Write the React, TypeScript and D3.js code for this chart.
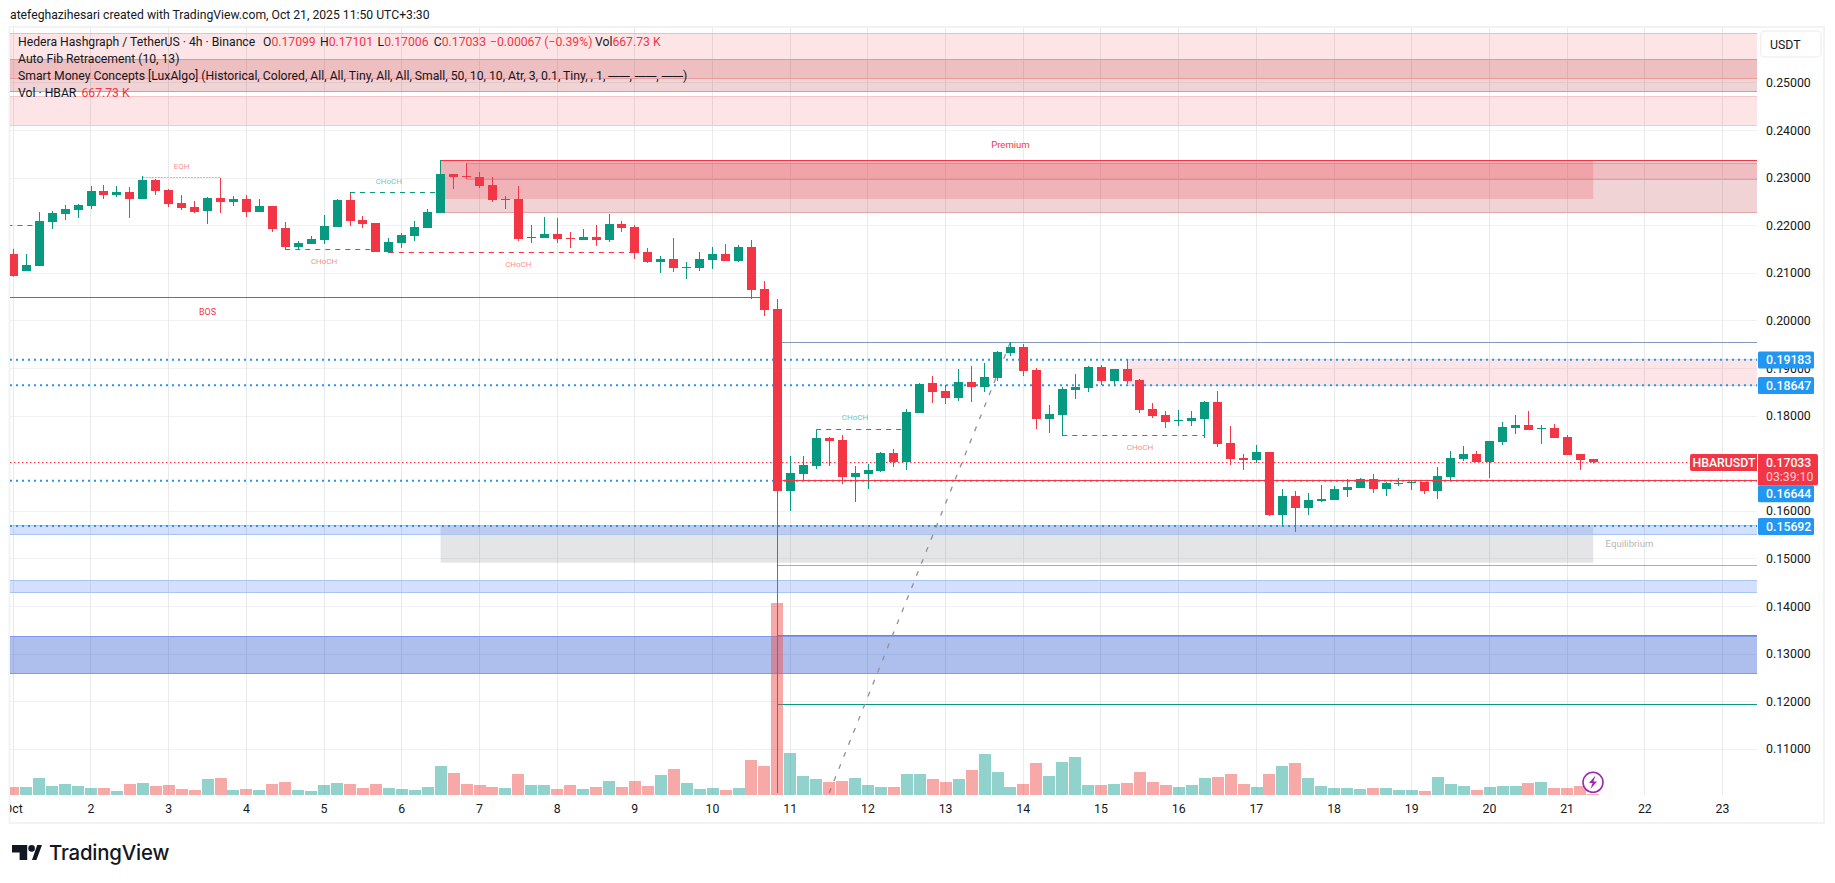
import React from "react";
import * as d3 from "d3";

const opens = [
  0.21411, 0.21048, 0.21154, 0.22078, 0.22246, 0.2233, 0.22414, 0.22729, 0.22645, 0.22708,
  0.22561, 0.2296, 0.2275, 0.22477, 0.22393, 0.22309, 0.22582, 0.22498, 0.22561, 0.22288,
  0.22414, 0.21952, 0.21553, 0.21616, 0.217, 0.21973, 0.2254, 0.2212, 0.22057, 0.21448,
  0.21637, 0.21784, 0.21952, 0.22267, 0.23086, 0.23044, 0.23023, 0.22855, 0.2254, 0.22561,
  0.21742, 0.21742, 0.21826, 0.21742, 0.217, 0.21763, 0.217, 0.22036, 0.21973, 0.21448,
  0.21238, 0.21301, 0.21112, 0.21112, 0.2128, 0.21406, 0.21259, 0.21553, 0.2067, 0.2025,
  0.16426, 0.16784, 0.16952, 0.1754, 0.17498, 0.16721, 0.16784, 0.16847, 0.17225, 0.17036,
  0.18065, 0.18695, 0.18527, 0.1838, 0.18716, 0.18611, 0.188, 0.19326, 0.19452, 0.18969,
  0.17939, 0.18023, 0.18548, 0.1859, 0.19032, 0.18737, 0.18989, 0.18758, 0.18149, 0.18023,
  0.17897, 0.17897, 0.17939, 0.18296, 0.17435, 0.1712, 0.17078, 0.17246, 0.15923, 0.16321,
  0.16069, 0.16216, 0.16237, 0.16447, 0.16489, 0.16678, 0.16468, 0.16573, 0.16594, 0.16615,
  0.16426, 0.16721, 0.17099, 0.17204, 0.17036, 0.17456, 0.1775, 0.17813, 0.17729, 0.1775,
  0.17561, 0.17204, 0.17099,
];
const highs = [
  0.21516, 0.21406, 0.22288, 0.22309, 0.22435, 0.22456, 0.22834, 0.22855, 0.22834, 0.22813,
  0.23044, 0.22981, 0.22771, 0.22645, 0.22519, 0.22603, 0.23002, 0.22624, 0.22645, 0.22561,
  0.22414, 0.22078, 0.21679, 0.21784, 0.22225, 0.22561, 0.22687, 0.22204, 0.22057, 0.21742,
  0.21847, 0.22099, 0.22351, 0.2338, 0.23086, 0.23317, 0.23128, 0.23023, 0.22624, 0.22834,
  0.22015, 0.22183, 0.22162, 0.21868, 0.21931, 0.22015, 0.22246, 0.22099, 0.22015, 0.21532,
  0.21364, 0.21742, 0.21238, 0.21448, 0.21553, 0.21616, 0.21595, 0.217, 0.20838, 0.2046,
  0.17162, 0.17162, 0.17708, 0.17561, 0.17603, 0.16952, 0.16994, 0.17246, 0.17309, 0.18149,
  0.18695, 0.18842, 0.18653, 0.18989, 0.19053, 0.19116, 0.19368, 0.19557, 0.19515, 0.19011,
  0.18233, 0.18611, 0.18884, 0.19053, 0.19074, 0.18989, 0.19179, 0.18779, 0.18275, 0.18107,
  0.18128, 0.18107, 0.18317, 0.18527, 0.17792, 0.17204, 0.17393, 0.17246, 0.16468, 0.16426,
  0.16384, 0.16552, 0.16531, 0.16678, 0.16699, 0.16784, 0.16615, 0.16699, 0.16657, 0.16615,
  0.16931, 0.17267, 0.17372, 0.17267, 0.17477, 0.17876, 0.18023, 0.18107, 0.17813, 0.17834,
  0.17603, 0.17204, 0.17101,
];
const lows = [
  0.20928, 0.21048, 0.21154, 0.21931, 0.2212, 0.22162, 0.22351, 0.22561, 0.22603, 0.22162,
  0.22561, 0.22645, 0.22393, 0.2233, 0.22267, 0.22036, 0.22267, 0.22414, 0.22183, 0.22288,
  0.21868, 0.2149, 0.21511, 0.21616, 0.21616, 0.21973, 0.21994, 0.21952, 0.21448, 0.21427,
  0.21532, 0.21679, 0.21952, 0.22267, 0.22771, 0.22981, 0.22792, 0.22498, 0.22351, 0.21679,
  0.21637, 0.21742, 0.21637, 0.21532, 0.217, 0.21574, 0.21658, 0.21868, 0.21301, 0.21217,
  0.21006, 0.21028, 0.2088, 0.21048, 0.2109, 0.21259, 0.21238, 0.2046, 0.20103, 0.10082,
  0.16006, 0.16658, 0.16889, 0.16952, 0.16574, 0.16195, 0.16468, 0.16826, 0.16931, 0.16868,
  0.18065, 0.18275, 0.18254, 0.18317, 0.18296, 0.18506, 0.18737, 0.19263, 0.18842, 0.17729,
  0.17645, 0.17582, 0.18359, 0.18506, 0.18653, 0.18653, 0.18674, 0.18065, 0.1796, 0.1775,
  0.17792, 0.17792, 0.1754, 0.17351, 0.16973, 0.16868, 0.17015, 0.15902, 0.15712, 0.15565,
  0.15923, 0.16195, 0.16237, 0.163, 0.16489, 0.16384, 0.16321, 0.16531, 0.16447, 0.16363,
  0.16258, 0.16636, 0.17057, 0.17036, 0.167, 0.17393, 0.17624, 0.17708, 0.17414, 0.1754,
  0.17183, 0.16868, 0.17006,
];
const closes = [
  0.20949, 0.21175, 0.22099, 0.22267, 0.22351, 0.22435, 0.22729, 0.22645, 0.22708, 0.22561,
  0.2296, 0.22729, 0.22456, 0.22372, 0.22288, 0.22582, 0.22498, 0.22561, 0.22288, 0.22414,
  0.21931, 0.21553, 0.21637, 0.21721, 0.21994, 0.2254, 0.22099, 0.22036, 0.21448, 0.21658,
  0.21805, 0.21973, 0.22288, 0.23086, 0.23023, 0.23023, 0.22834, 0.2254, 0.22561, 0.21721,
  0.21763, 0.21826, 0.21721, 0.21721, 0.21763, 0.217, 0.22036, 0.21952, 0.21427, 0.21238,
  0.21301, 0.21112, 0.21133, 0.21301, 0.21406, 0.21259, 0.21553, 0.20649, 0.20229, 0.16426,
  0.16805, 0.16973, 0.1754, 0.17477, 0.16721, 0.16805, 0.16868, 0.17225, 0.17036, 0.18086,
  0.18674, 0.18506, 0.1838, 0.18716, 0.18611, 0.18821, 0.19347, 0.19452, 0.18947, 0.17939,
  0.18044, 0.18569, 0.18611, 0.19032, 0.18737, 0.18989, 0.18737, 0.18128, 0.18002, 0.17876,
  0.17918, 0.1796, 0.18296, 0.17414, 0.17099, 0.17078, 0.17246, 0.15923, 0.16321, 0.16069,
  0.16237, 0.16258, 0.16468, 0.1651, 0.16678, 0.16468, 0.16594, 0.16594, 0.16615, 0.16426,
  0.16742, 0.1712, 0.17204, 0.17036, 0.17477, 0.17771, 0.17813, 0.17708, 0.1775, 0.1754,
  0.17183, 0.17078, 0.17033,
];
// volume in millions of HBAR
const volumes = [
  5.6, 5.6, 11.9, 6.3, 7.7, 6.3, 4.9, 4.9, 2.8, 7.7, 8.4, 6.3, 7, 4.2, 3.5, 11.2, 11.9, 3.5, 4.2, 3.5,
  7.7, 9.1, 3.5, 2.8, 7, 8.4, 7.7, 4.9, 7.7, 4.9, 4.2, 3.5, 5.6, 20.3, 15.4, 7.7, 7, 5.6, 4.9, 14.7,
  7, 7, 4.2, 7, 4.2, 5.6, 9.8, 5.6, 9.8, 6.3, 14, 18.2, 8.4, 4.2, 4.9, 3.5, 4.9, 24.5, 20.3, 134.4,
  29.4, 13.3, 11.2, 9.1, 9.8, 11.9, 7, 5.6, 5.6, 14.7, 14.7, 11.2, 9.1, 11.2, 17.5, 28.7, 16.1, 5.6, 7.7, 22.4,
  13.3, 23.1, 26.6, 7, 7, 7.7, 8.4, 16.1, 9.1, 7, 5.6, 7, 11.9, 12.6, 14.7, 7.7, 5.6, 14.7, 20.3, 22.4,
  11.9, 6.3, 4.9, 4.9, 4.2, 4.9, 4.9, 3.5, 3.5, 2.8, 12.6, 7.7, 6.3, 3.5, 5.6, 6.3, 6.3, 8.4, 9.1, 4.9,
  4.9, 6.3, 0.668,
];

const dayLabels = ["Oct", "2", "3", "4", "5", "6", "7", "8", "9", "10", "11", "12", "13", "14", "15", "16", "17", "18", "19", "20", "21", "22", "23"];
const priceTicks = [0.25, 0.24, 0.23, 0.22, 0.21, 0.2, 0.19, 0.18, 0.17, 0.16, 0.15, 0.14, 0.13, 0.12, 0.11];

// [x0 bar, x1 bar or null for the right edge, top price, bottom price, fill, opacity, border]
type Zone = [number, number | null, number, number, string, number, string];
const zones: Zone[] = [
  [-2, null, 0.26042, 0.25088, "#f23645", 0.13, "#f7b8bc"],
  [-2, null, 0.25496, 0.24815, "#b2282e", 0.2, "#cf9ea1"],
  [-2, null, 0.24704, 0.24101, "#f23645", 0.13, "#f6c6c9"],
  [33, null, 0.23374, 0.22273, "#b2282e", 0.2, "#e6a5a9"],
  [35, null, 0.23317, 0.22966, "#f23645", 0.14, "#e39da2"],
  [33, 122, 0.23374, 0.22561, "#f23645", 0.2, "none"],
  [86, null, 0.19179, 0.18653, "#f23645", 0.13, "#f9d5d7"],
  [33, 122, 0.15692, 0.1492, "#787b86", 0.2, "none"],
  [-2, null, 0.15692, 0.15517, "#2962ff", 0.2, "#a9c3f5"],
  [-2, null, 0.1455, 0.14298, "#2962ff", 0.2, "#a9c3f5"],
  [-2, null, 0.13374, 0.12597, "#1848cc", 0.35, "#7f9ae8"],
];

const dottedLevels = [0.19183, 0.18647, 0.16644, 0.15692];
const lastClose = 0.17033;

// [x0 bar, price, colour] for the lines that run to the right edge
const fibLines: [number, number, string][] = [
  [59, 0.1955, "#8598c0"],
  [59, 0.14866, "#8cc48e"],
  [59, 0.13395, "#5aa469"],
  [59, 0.11945, "#089981"],
];

// [x0 bar, x1 bar, price, colour, dash]
const structureLines: [number, number, number, string, string][] = [
  [-2, 58, 0.20496, "#f23645", ""],
  [-2, 2, 0.22008, "#089981", "5 5"],
  [10, 16, 0.23023, "#f7a5ac", "2 1"],
  [26, 33, 0.22687, "#089981", "5 5"],
  [21, 28, 0.2149, "#f23645", "5 5"],
  [29, 48, 0.21441, "#f23645", "5 5"],
  [62, 69, 0.17708, "#089981", "5 5"],
  [81, 92, 0.17582, "#f23645", "5 5"],
];

// [text, bar, price, colour]
const structureLabels: [string, number, number, string][] = [
  ["EQH", 13, 0.2324, "#f23645"],
  ["CHoCH", 29, 0.22924, "#089981"],
  ["CHoCH", 24, 0.21244, "#f23645"],
  ["CHoCH", 39, 0.21181, "#f23645"],
  ["CHoCH", 65, 0.17966, "#089981"],
  ["CHoCH", 87, 0.17336, "#f23645"],
  ["BOS", 15, 0.20187, "#f23645"],
];

const UP = "#089981";
const DOWN = "#f23645";
const INK = "#131722";
const FONT = "Roboto, 'Noto Sans', sans-serif";
const paneLeft = 10;
const paneRight = 1757;
const paneTop = 28;
const paneBottom = 795;

const x = d3.scaleLinear().domain([0, 122]).range([13.3, 1593.2]);
const y = d3.scaleLinear().domain([0.21, 0.11]).range([273.3, 749.3]);
const vol = d3.scaleLinear().domain([0, 134.4]).range([paneBottom, 603]);
const dayX = d3.scaleLinear().domain([0, 22]).range([13.3, 1722.5]);
const fmt = d3.format(".5f");
// keeps 1px wicks and gridlines on the pixel grid
const crisp = (v: number) => Math.floor(v) + 0.5;

const App: React.FC = () => {
  const fibPath = d3.line<[number, number]>()
    .x((d) => x(d[0]))
    .y((d) => y(d[1]))([[63, lows[59]], [77, highs[77]]]) || "";

  return (
    <svg width={1835} height={883} viewBox="0 0 1835 883"
      style={{ position: "absolute", left: 0, top: 0, background: "#fff" }} fontFamily={FONT}>
      <defs>
        <clipPath id="pane"><rect x={paneLeft} y={paneTop} width={paneRight - paneLeft} height={paneBottom - paneTop} /></clipPath>
        <clipPath id="timeAxis"><rect x={paneLeft} y={796} width={paneRight - paneLeft} height={26} /></clipPath>
      </defs>

      <text x={10} y={15} dominantBaseline="central" fontSize={12.2} fill={INK}>
        atefeghazihesari created with TradingView.com, Oct 21, 2025 11:50 UTC+3:30
      </text>

      <rect x={9.5} y={27} width={1814.5} height={796} fill="none" stroke="#f2f3f4" strokeWidth={2} />

      {priceTicks.map((p) => (
        <line key={p} x1={paneLeft} x2={paneRight} y1={crisp(y(p))} y2={crisp(y(p))} stroke="#f0f1f3" strokeWidth={1} />
      ))}
      {dayLabels.map((d, i) => (
        <line key={d} x1={crisp(dayX(i))} x2={crisp(dayX(i))} y1={paneTop} y2={paneBottom} stroke="#e9eaed" strokeWidth={1} />
      ))}

      <g clipPath="url(#pane)">
        {zones.map(([a, b, top, bottom, fill, op, border], i) => {
          const x0 = x(a);
          const x1 = b === null ? paneRight : x(b);
          return (
            <g key={i}>
              <rect x={x0} y={y(top)} width={x1 - x0} height={y(bottom) - y(top)} fill={fill} fillOpacity={op} />
              {border !== "none" && (
                <>
                  <line x1={x0} x2={x1} y1={crisp(y(top))} y2={crisp(y(top))} stroke={border} />
                  <line x1={x0} x2={x1} y1={crisp(y(bottom))} y2={crisp(y(bottom))} stroke={border} />
                </>
              )}
            </g>
          );
        })}
        <line x1={x(33)} x2={paneRight} y1={crisp(y(0.23374))} y2={crisp(y(0.23374))} stroke={DOWN} strokeWidth={1} />

        {fibLines.map(([a, p, c]) => (
          <line key={p} x1={x(a)} x2={paneRight} y1={crisp(y(p))} y2={crisp(y(p))} stroke={c} strokeWidth={1} />
        ))}
        <path d={fibPath} fill="none" stroke="#8e9099" strokeWidth={1.3} strokeDasharray="5 8" />

        {dottedLevels.map((p) => (
          <line key={p} x1={paneLeft} x2={paneRight} y1={y(p)} y2={y(p)} stroke="#2196f3" strokeWidth={2} strokeDasharray="2 4" />
        ))}

        {volumes.map((v, i) => (
          <rect key={i} x={Math.round(x(i) - 6)} y={vol(v)} width={12} height={paneBottom - vol(v)}
            fill={closes[i] >= opens[i] ? "#26a69a" : "#ef5350"} fillOpacity={0.5} />
        ))}

        {structureLines.map(([a, b, p, c, dash], i) => (
          <line key={i} x1={x(a)} x2={x(b)} y1={crisp(y(p))} y2={crisp(y(p))} stroke={c} strokeWidth={1} strokeDasharray={dash} />
        ))}

        <line x1={paneLeft} x2={paneRight} y1={crisp(y(lastClose))} y2={crisp(y(lastClose))} stroke={DOWN} strokeWidth={1} strokeDasharray="1.5 2.5" />

        {opens.map((o, i) => {
          const c = closes[i];
          const color = c >= o ? UP : DOWN;
          const top = Math.round(y(Math.max(o, c)));
          const bottom = Math.round(y(Math.min(o, c)));
          const mid = crisp(x(i));
          return (
            <g key={i}>
              <line x1={mid} x2={mid} y1={y(highs[i])} y2={y(lows[i])} stroke={color} strokeWidth={1} />
              <rect x={mid - 4.5} y={top} width={9} height={Math.max(1, bottom - top)} fill={color} />
            </g>
          );
        })}

        <line x1={x(59) + 5} x2={paneRight} y1={crisp(y(0.16651))} y2={crisp(y(0.16651))} stroke={DOWN} strokeWidth={1} />

        {structureLabels.map(([t, b, p, c], i) => (
          <text key={i} x={x(b)} y={y(p)} textAnchor="middle" dominantBaseline="central"
            fontSize={t === "BOS" ? 9 : 8} fill={c} fillOpacity={t === "BOS" ? 1 : 0.6}>{t}</text>
        ))}
        <text x={x(77)} y={y(0.23696)} textAnchor="middle" dominantBaseline="central" fontSize={9.5} fill={DOWN}>Premium</text>
        <text x={x(124.8)} y={y(0.15319)} textAnchor="middle" dominantBaseline="central" fontSize={9.6} fill="#b4b6bc">Equilibrium</text>
      </g>

      {/* legend */}
      <g fontSize={12.2} dominantBaseline="central" fill={INK}>
        <text x={18} y={42}>Hedera Hashgraph / TetherUS · 4h · Binance</text>
        <text x={263} y={42}>O<tspan fill={DOWN}>0.17099</tspan></text>
        <text x={320} y={42}>H<tspan fill={DOWN}>0.17101</tspan></text>
        <text x={377.6} y={42}>L<tspan fill={DOWN}>0.17006</tspan></text>
        <text x={433.8} y={42}>C<tspan fill={DOWN}>0.17033</tspan></text>
        <text x={490} y={42} fill={DOWN}>−0.00067 (−0.39%)</text>
        <text x={595} y={42}>Vol<tspan fill={DOWN}>667.73 K</tspan></text>
        <text x={18} y={59}>Auto Fib Retracement (10, 13)</text>
        <text x={18} y={76}>
          Smart Money Concepts [LuxAlgo] (Historical, Colored, All, All, Tiny, All, All, Small, 50, 10, 10, Atr, 3, 0.1, Tiny, , 1,{" "}
          <tspan fontSize={15}>──</tspan>, <tspan fontSize={15}>──</tspan>, <tspan fontSize={15}>──</tspan>)
        </text>
        <text x={18} y={93}>Vol · HBAR</text>
        <text x={81.5} y={93} fill={DOWN}>667.73 K</text>
      </g>

      {/* price axis */}
      <g fontSize={12.3} dominantBaseline="central" fill={INK}>
        {priceTicks.filter((p) => p !== 0.17).map((p) => (
          <text key={p} x={1766} y={y(p)}>{fmt(p)}</text>
        ))}
      </g>
      <rect x={1760.7} y={31} width={60.3} height={26} rx={4} fill="#fff" stroke="#f0f1f3" strokeWidth={1.5} />
      <text x={1770} y={44.5} fontSize={12.3} dominantBaseline="central" fill={INK}>USDT</text>

      {[[0.19183, 360], [0.18647, 385.5], [0.16644, 493.7], [0.15692, 526.5]].map(([p, cy]) => (
        <g key={p}>
          <rect x={1758} y={cy - 8.5} width={56} height={17} rx={1.5} fill="#2196f3" />
          <text x={1766} y={cy} fontSize={12.3} fontWeight={500} dominantBaseline="central" fill="#fff">{fmt(p)}</text>
        </g>
      ))}

      <path d="M1757 454H1692a2 2 0 0 0 -2 2V469a2 2 0 0 0 2 2H1757Z" fill={DOWN} />
      <text x={1724} y={462.7} textAnchor="middle" fontSize={12.3} fontWeight={500} dominantBaseline="central" fill="#fff">HBARUSDT</text>
      <path d="M1758 454H1816a2 2 0 0 1 2 2V483.3a2 2 0 0 1 -2 2H1758Z" fill={DOWN} />
      <text x={1766} y={462.7} fontSize={12.3} fontWeight={500} dominantBaseline="central" fill="#fff">{fmt(lastClose)}</text>
      <text x={1766} y={477} fontSize={12.3} dominantBaseline="central" fill="#fff" fillOpacity={0.75}>03:39:10</text>

      {/* time axis */}
      <g clipPath="url(#timeAxis)" fontSize={12.3} fill={INK} textAnchor="middle" dominantBaseline="central">
        {dayLabels.map((d, i) => (
          <text key={d} x={dayX(i)} y={809}>{d}</text>
        ))}
      </g>

      {/* bolt marker */}
      <circle cx={1593} cy={782.3} r={10} fill="#fff" stroke="#9c27b0" strokeWidth={1.6} />
      <path d="M1595.5 775.5L1589 783H1592.6L1590.5 789L1597 781.5H1593.4Z" fill="#9c27b0" />

      {/* logo */}
      <path d="M12 845H27.2V860H19.6V852.4H12Z M32 860L37.2 845H42L36.4 860Z" fill="#131722" />
      <circle cx={31.6} cy={848.4} r={3.3} fill="#131722" />
      <text x={49} y={852.5} fontFamily="Inter, Roboto, sans-serif" fontSize={20.4} fontWeight={500} dominantBaseline="central" fill="#131722" letterSpacing={-0.2}>TradingView</text>
    </svg>
  );
};

export default App;
